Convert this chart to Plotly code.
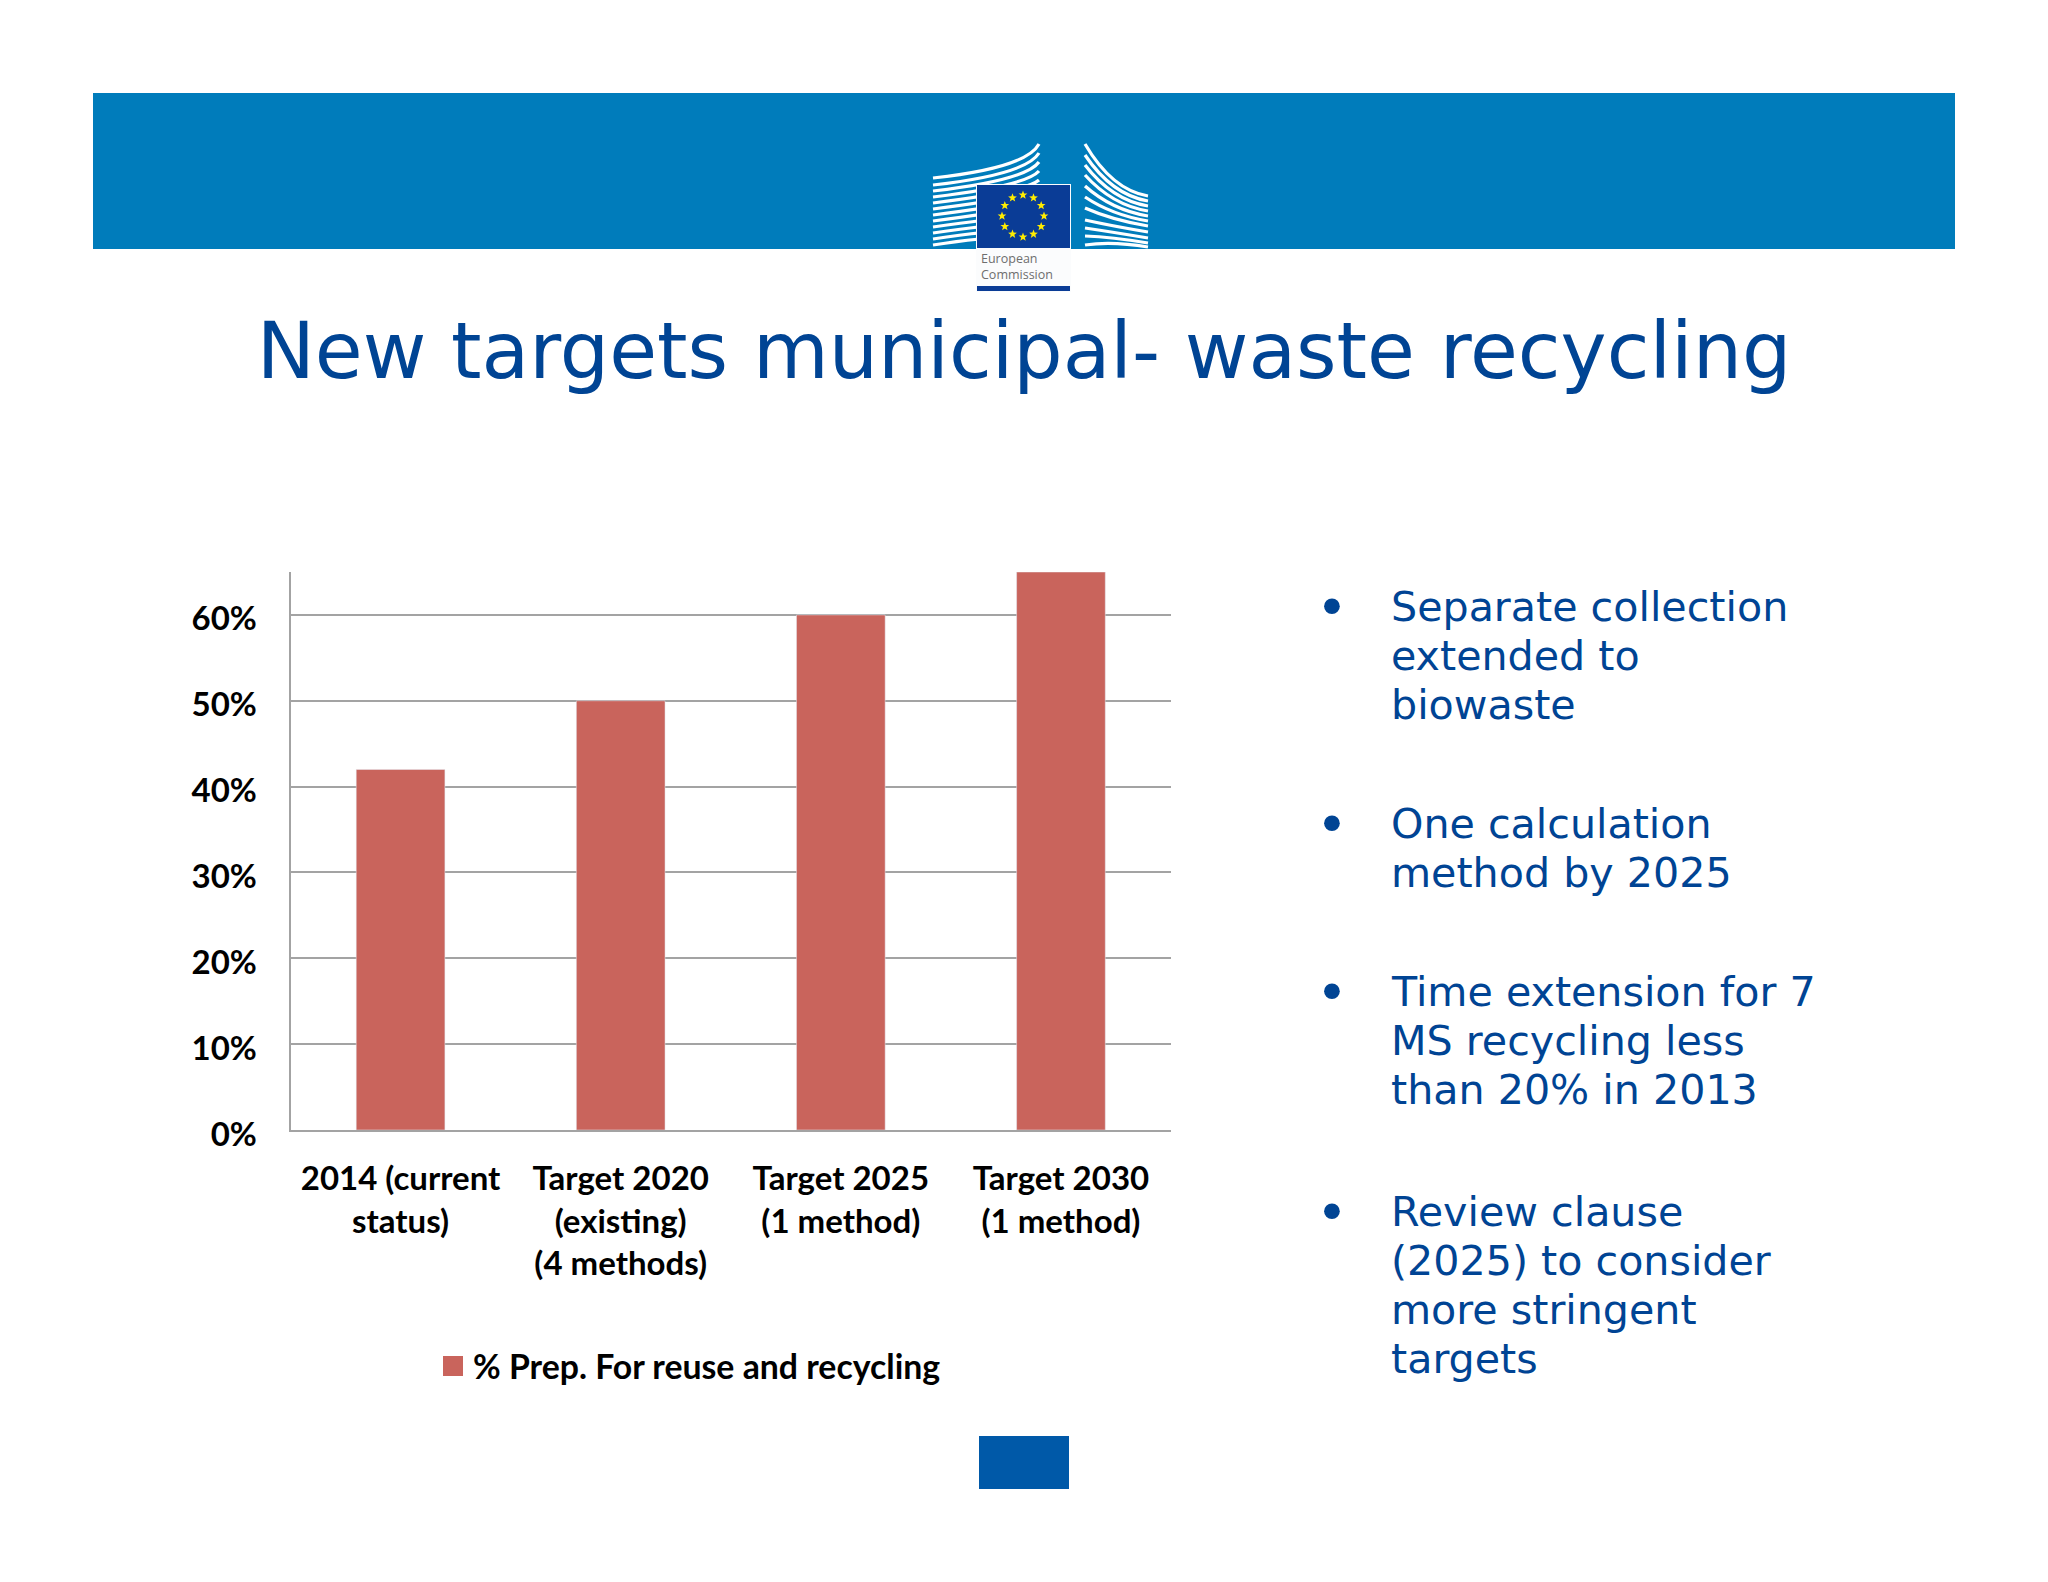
import math
import plotly.graph_objects as go

W, H = 2048, 1582

categories = ["2014 (current<br>status)", "Target 2020<br>(existing)<br>(4 methods)",
              "Target 2025<br>(1 method)", "Target 2030<br>(1 method)"]
values = [42, 50, 60, 65]
y_ticks = [0, 10, 20, 30, 40, 50, 60]
y_tick_labels = ["0%", "10%", "20%", "30%", "40%", "50%", "60%"]
series_name = "% Prep. For reuse and recycling"
title_text = "New targets municipal- waste recycling"
bullets = [
    ["Separate collection", "extended to", "biowaste"],
    ["One calculation", "method by 2025"],
    ["Time extension for 7", "MS recycling less", "than 20% in 2013"],
    ["Review clause", "(2025) to consider", "more stringent", "targets"],
]
bullet_y = [607, 824, 992, 1212]

BLUE = "#007CBB"
NAVY = "#004494"
BAR = "#C9645C"
GRID = "#A3A3A3"
CHART_FONT = "Lato"
LINE_STEP = 49


def px(x):
    return x / W


def py(y):
    return 1 - y / H


def rect(x0, y0, x1, y1, color):
    return dict(type="rect", xref="paper", yref="paper", x0=px(x0), x1=px(x1),
                y0=py(y0), y1=py(y1), fillcolor=color, line_width=0, layer="above")


def curve(p0, c, p1, width):
    d = (f"M{px(p0[0])},{py(p0[1])} Q{px(c[0])},{py(c[1])} {px(p1[0])},{py(p1[1])}")
    return dict(type="path", xref="paper", yref="paper", path=d,
                line=dict(color="white", width=width), layer="above")


def star(cx, cy, r):
    pts = []
    for k in range(10):
        rad = r if k % 2 == 0 else r * 0.42
        a = -math.pi / 2 + k * math.pi / 5
        pts.append((cx + rad * math.cos(a), cy + rad * math.sin(a)))
    d = "M" + " L".join(f"{px(a)},{py(b)}" for a, b in pts) + " Z"
    return dict(type="path", xref="paper", yref="paper", path=d,
                fillcolor="#FFED00", line_width=0, layer="above")


shapes = [rect(93, 93, 1955, 249, BLUE)]

# Commission logo: left and right building wings
left_starts = [178, 185, 191, 197, 203, 209, 215, 221, 227, 233, 239, 245]
for i, yl in enumerate(left_starts):
    yr = 144 + i * 9
    shapes.append(curve((933, yl), (1026, yl - 10 - i * 0.4), (1039, yr), 3.2))
right_left = [144, 155, 165, 175, 186, 197, 208, 220, 228, 236, 245]
right_right = [196, 201, 206, 211, 216, 221, 226, 232, 238, 243, 247]
for a, b in zip(right_left, right_right):
    shapes.append(curve((1085, a), (1112, b - 6), (1148, b), 3.2))
shapes.append(rect(933, 249, 1150, 262, "white"))
shapes.append(rect(976, 184, 1071, 292, "#FBFCFD"))
shapes.append(rect(977, 185, 1070, 248, "#0A3C96"))
for k in range(12):
    a = k * math.pi / 6
    shapes.append(star(1023 + 21 * math.sin(a), 216 - 21 * math.cos(a), 4.6))
shapes.append(rect(977, 286, 1070, 291, "#0A3C96"))
# Bottom blue block
shapes.append(rect(979, 1436, 1069, 1489, "#0059A8"))

annotations = [
    dict(text="European", x=px(979), y=py(258), xref="paper", yref="paper", xanchor="left",
         yanchor="middle", showarrow=False, font=dict(family="Open Sans", size=12.5, color="#6E6E6E")),
    dict(text="Commission", x=px(979), y=py(274), xref="paper", yref="paper", xanchor="left",
         yanchor="middle", showarrow=False, font=dict(family="Open Sans", size=12.5, color="#6E6E6E")),
]
for lines, y in zip(bullets, bullet_y):
    for j, t in enumerate(lines):
        annotations.append(dict(text=t, x=px(1389), y=py(y + j * LINE_STEP), xref="paper", yref="paper",
                                xanchor="left", yanchor="middle", align="left", showarrow=False,
                                font=dict(family="DejaVu Sans", size=41.2, color=NAVY)))
    annotations.append(dict(text="•", x=px(1332), y=py(y), xref="paper", yref="paper",
                            xanchor="center", yanchor="middle", showarrow=False,
                            font=dict(family="DejaVu Sans", size=54, color=NAVY)))

fig = go.Figure()
fig.add_bar(x=categories, y=values, width=0.403, marker_color=BAR, showlegend=False, name=series_name)
fig.add_scatter(x=[None], y=[None], mode="markers", name=series_name,
                marker=dict(symbol="square", size=16, color=BAR, line=dict(color=BAR, width=4)))

fig.update_layout(
    width=W, height=H, autosize=False,
    margin=dict(l=0, r=0, t=0, b=0, autoexpand=False),
    paper_bgcolor="white", plot_bgcolor="white",
    title=dict(text=title_text, x=1024 / W, xanchor="center", y=py(351), yanchor="middle",
               font=dict(family="DejaVu Sans", size=77.8, color=NAVY)),
    font=dict(family=CHART_FONT, color="black"),
    shapes=shapes, annotations=annotations,
    legend=dict(x=px(433), y=py(1366), xanchor="left", yanchor="middle", orientation="h",
                font=dict(family=CHART_FONT, size=33.8, color="black", weight="bold"),
                bgcolor="rgba(0,0,0,0)", itemwidth=30),
    xaxis=dict(domain=[px(290.5), px(1171)], showline=True, linecolor=GRID, linewidth=2,
               showgrid=False, ticks="", tickangle=0,
               tickfont=dict(family=CHART_FONT, size=33, color="black", weight="bold"),
               ticklabelstandoff=18),
    yaxis=dict(domain=[py(1130), py(572)], range=[0, 65], tickvals=y_ticks, ticktext=y_tick_labels,
               showline=True, linecolor=GRID, linewidth=2, showgrid=True, gridcolor=GRID, gridwidth=2,
               zeroline=False, ticks="",
               tickfont=dict(family=CHART_FONT, size=33, color="black", weight="bold"),
               ticklabelstandoff=25, ticklabelshift=4),
)

fig.write_html("out.html", config=dict(displayModeBar=False),
               post_script="document.body.style.margin='0';")
